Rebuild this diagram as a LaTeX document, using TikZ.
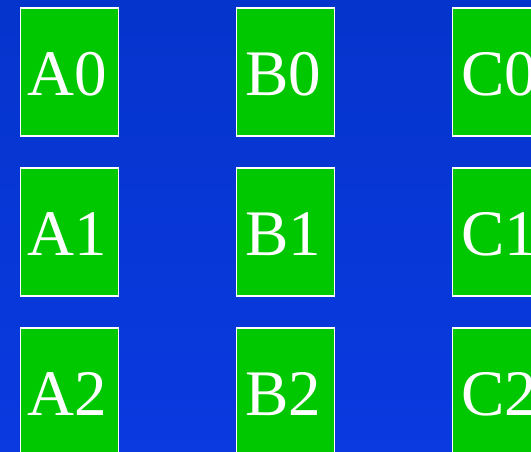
\documentclass[tikz,border=0pt]{standalone}
\usepackage{fontspec}
\setmainfont{Liberation Serif}
\begin{document}
\begin{tikzpicture}[x=1pt,y=1pt,
  cell/.style={draw=white,line width=1.8pt,fill={rgb,255:red,0;green,200;blue,0},minimum width=98pt,minimum height=128pt,inner sep=0pt,anchor=north west},
  lbl/.style={text=white,font=\fontsize{65}{65}\selectfont,anchor=base,inner sep=0pt}]
\useasboundingbox (0,0) rectangle (531,452);
\clip (0,0) rectangle (531,452);
\shade[top color={rgb,255:red,5;green,52;blue,204},bottom color={rgb,255:red,10;green,58;blue,224}] (0,0) rectangle (531,452);
\foreach \c/\cx in {A/19.5,B/235.5,C/451.5}{
  \foreach \r in {0,1,2}{
    \node[cell] (\c\r) at (\cx,{445-160*\r}) {};
    \node[lbl] (t\c\r) at ([xshift=-2,yshift={-89}]\c\r.north) {\c\r};
  }
}
\end{tikzpicture}
\end{document}
